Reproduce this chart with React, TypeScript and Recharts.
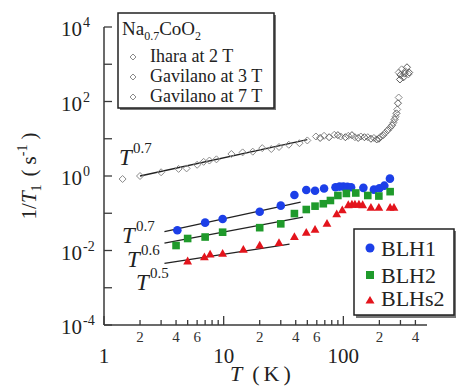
import { ScatterChart, Scatter, XAxis, YAxis } from 'recharts';

// Na0.7CoO2 reference data (1/T1 in s^-1 vs T in K)
const iharaData = [
    { t: 1.43, r: 0.83 }, { t: 2, r: 1.0 }, { t: 3, r: 1.26 }, { t: 4.2, r: 1.55 },
    { t: 4.9, r: 1.6 }, { t: 6, r: 2.0 }, { t: 6.8, r: 2.4 }, { t: 7.6, r: 2.6 },
    { t: 8.7, r: 2.8 }, { t: 11.6, r: 3.9 }, { t: 14.4, r: 4.3 }, { t: 17.5, r: 4.5 },
    { t: 21, r: 5.6 }, { t: 25, r: 5.3 }, { t: 29, r: 6.0 }, { t: 35, r: 6.9 },
    { t: 43, r: 7.6 }, { t: 50, r: 9.0 },
];
const gav3Data = [
    { t: 59, r: 11.5 }, { t: 69, r: 12 }, { t: 84, r: 12.8 }, { t: 95, r: 11.5 },
    { t: 110, r: 12 }, { t: 125, r: 11 }, { t: 140, r: 11.5 }, { t: 160, r: 11 },
    { t: 180, r: 10.5 }, { t: 204, r: 11.3 }, { t: 224, r: 14.5 }, { t: 246, r: 19.8 },
    { t: 262, r: 27 }, { t: 273, r: 39 }, { t: 282, r: 61 }, { t: 290, r: 128 },
    { t: 290, r: 600 }, { t: 307, r: 730 }, { t: 330, r: 650 }, { t: 350, r: 540 },
];
const gav7Data = [
    { t: 64, r: 10.5 }, { t: 76, r: 11 }, { t: 90, r: 12.5 }, { t: 104, r: 11 },
    { t: 118, r: 12.5 }, { t: 133, r: 10.5 }, { t: 150, r: 11 }, { t: 170, r: 10 },
    { t: 190, r: 9.6 }, { t: 198, r: 10 }, { t: 215, r: 12.5 }, { t: 235, r: 17 },
    { t: 255, r: 23 }, { t: 268, r: 33 }, { t: 278, r: 48 }, { t: 286, r: 90 },
    { t: 297, r: 390 }, { t: 318, r: 445 }, { t: 340, r: 830 }, { t: 300, r: 520 },
    { t: 325, r: 560 }, { t: 355, r: 600 },
];
const blh1Data = [
    { t: 4.1, r: 0.035 }, { t: 7, r: 0.056 }, { t: 9.8, r: 0.07 }, { t: 20, r: 0.11 },
    { t: 30, r: 0.16 }, { t: 39, r: 0.31 }, { t: 49, r: 0.42 }, { t: 58, r: 0.4 },
    { t: 69, r: 0.46 }, { t: 86, r: 0.5 }, { t: 93, r: 0.52 }, { t: 100, r: 0.52 },
    { t: 108, r: 0.51 }, { t: 116, r: 0.5 }, { t: 147, r: 0.48 }, { t: 180, r: 0.43 },
    { t: 200, r: 0.47 }, { t: 220, r: 0.55 }, { t: 245, r: 0.85 },
];
const blh2Data = [
    { t: 4, r: 0.0136 }, { t: 5, r: 0.021 }, { t: 7, r: 0.023 }, { t: 9.8, r: 0.031 },
    { t: 20, r: 0.041 }, { t: 30, r: 0.052 }, { t: 39, r: 0.098 }, { t: 49, r: 0.126 },
    { t: 58, r: 0.155 }, { t: 68, r: 0.18 }, { t: 78, r: 0.22 }, { t: 90, r: 0.3 },
    { t: 106, r: 0.34 }, { t: 127, r: 0.35 }, { t: 160, r: 0.3 }, { t: 198, r: 0.29 },
    { t: 246, r: 0.38 },
];
const blhs2Data = [
    { t: 5, r: 0.0051 }, { t: 6.9, r: 0.0066 }, { t: 7.7, r: 0.0078 }, { t: 9.8, r: 0.0082 },
    { t: 14.6, r: 0.0104 }, { t: 20, r: 0.0136 }, { t: 29, r: 0.0158 }, { t: 39, r: 0.023 },
    { t: 49, r: 0.03 }, { t: 58, r: 0.036 }, { t: 73, r: 0.052 }, { t: 88, r: 0.094 },
    { t: 98, r: 0.12 }, { t: 110, r: 0.165 }, { t: 118, r: 0.17 }, { t: 125, r: 0.17 },
    { t: 135, r: 0.17 }, { t: 145, r: 0.165 }, { t: 170, r: 0.14 }, { t: 198, r: 0.14 },
    { t: 246, r: 0.14 }, { t: 265, r: 0.14 },
];

// power-law guide lines
const fitNa = [{ t: 2, r: 1.0 }, { t: 50, r: 9.5 }];
const fitBlh1 = [{ t: 3.2, r: 0.032 }, { t: 44, r: 0.2 }];
const fitBlh2 = [{ t: 3.2, r: 0.0158 }, { t: 46, r: 0.079 }];
const fitBlhs2 = [{ t: 3.2, r: 0.0045 }, { t: 35.5, r: 0.0148 }];

const xTicks = [1, 2, 3, 4, 5, 6, 7, 8, 9, 10, 20, 30, 40, 50, 60, 70, 80, 90, 100, 200, 300, 400];
const yTicks = [1e-4, 1e-3, 1e-2, 1e-1, 1, 10, 100, 1000, 10000];

const FONT = 'Liberation Serif, Times New Roman, Times, DejaVu Serif, serif';
const serif = { fontFamily: FONT };
const AXIS = '#3a3a3a';

const lead = (v: number) => Math.round(v / Math.pow(10, Math.floor(Math.log10(v) + 1e-9)));
const isMajor = (v: number) => lead(v) === 1;

const XTickBottom = ({ x, y, payload }: any) => {
    const v = payload.value;
    const d = lead(v);
    return (
        <g>
            <line x1={x} x2={x} y1={y} y2={y - (isMajor(v) ? 9 : 5)} stroke={AXIS} strokeWidth={1.3} />
            {isMajor(v) ? (
                <text x={x} y={y + 38} textAnchor="middle" fontSize={21} style={serif} fill="#222">{v}</text>
            ) : d === 2 || d === 4 || d === 6 ? (
                <text x={x} y={y + 17} textAnchor="middle" fontSize={15} style={serif} fill="#333">{d}</text>
            ) : null}
        </g>
    );
};

const XTickTop = ({ x, y, payload }: any) => (
    <line x1={x} x2={x} y1={y} y2={y + (isMajor(payload.value) ? 9 : 5)} stroke={AXIS} strokeWidth={1.3} />
);

const YTickLeft = ({ x, y, payload }: any) => {
    const e = Math.round(Math.log10(payload.value));
    return (
        <g>
            <line x1={x} x2={x + 8} y1={y} y2={y} stroke={AXIS} strokeWidth={1.3} />
            {e % 2 === 0 ? (
                <g fill="#222">
                    <text x={x - 22} y={y + 9} textAnchor="end" fontSize={21} style={serif}>10</text>
                    <text x={x - 21} y={y} textAnchor="start" fontSize={14} style={serif}>{e}</text>
                </g>
            ) : null}
        </g>
    );
};

const YTickRight = ({ x, y }: any) => (
    <line x1={x} x2={x - 8} y1={y} y2={y} stroke={AXIS} strokeWidth={1.3} />
);

const Diamond = ({ cx, cy, stroke }: any) => (
    <polygon
        points={`${cx},${cy - 3.5} ${cx + 3.5},${cy} ${cx},${cy + 3.5} ${cx - 3.5},${cy}`}
        fill="none"
        stroke={stroke}
        strokeWidth={1}
    />
);
const diamondLight = (p: any) => <Diamond {...p} stroke="#8a8a8a" />;
const diamondDark = (p: any) => <Diamond {...p} stroke="#5a5a5a" />;
const Dot = ({ cx, cy }: any) => <circle cx={cx} cy={cy} r={4.3} fill="#1c3fe8" />;
const Sq = ({ cx, cy }: any) => <rect x={cx - 3.8} y={cy - 3.8} width={7.6} height={7.6} fill="#1f9a2b" />;
const Tri = ({ cx, cy }: any) => (
    <polygon points={`${cx},${cy - 4.8} ${cx + 4.4},${cy + 3} ${cx - 4.4},${cy + 3}`} fill="#e3141c" />
);
const NoShape = () => <g />;

const fitLine = { stroke: '#222', strokeWidth: 1.3 };

function PowerLabel({ x, y, exp }: { x: number; y: number; exp: string }) {
    return (
        <g fill="#222">
            <text x={x} y={y} fontSize={23} fontStyle="italic" style={serif}>T</text>
            <text x={x + 14} y={y - 12} fontSize={15} style={serif}>{exp}</text>
        </g>
    );
}

export default function App() {
    return (
        <div style={{ position: 'absolute', left: 0, top: 0, width: 456, height: 387, background: '#fff', fontFamily: FONT }}>
            <ScatterChart width={456} height={387} margin={{ top: 27, right: 29, bottom: 0, left: 0 }}>
                <XAxis
                    xAxisId="bottom"
                    dataKey="t"
                    type="number"
                    scale="log"
                    domain={[1, 500]}
                    allowDataOverflow
                    ticks={xTicks}
                    interval={0}
                    height={62}
                    tickSize={0}
                    tickMargin={0}
                    tickLine={false}
                    axisLine={{ stroke: AXIS, strokeWidth: 1.5 }}
                    tick={<XTickBottom />}
                />
                <XAxis
                    xAxisId="top"
                    orientation="top"
                    dataKey="t"
                    type="number"
                    scale="log"
                    domain={[1, 500]}
                    allowDataOverflow
                    ticks={xTicks}
                    interval={0}
                    height={0}
                    tickSize={0}
                    tickMargin={0}
                    tickLine={false}
                    axisLine={{ stroke: AXIS, strokeWidth: 1.5 }}
                    tick={<XTickTop />}
                />
                <YAxis
                    yAxisId="left"
                    dataKey="r"
                    type="number"
                    scale="log"
                    domain={[1e-4, 1e4]}
                    allowDataOverflow
                    ticks={yTicks}
                    interval={0}
                    width={104}
                    tickSize={0}
                    tickMargin={0}
                    tickLine={false}
                    axisLine={{ stroke: AXIS, strokeWidth: 1.5 }}
                    tick={<YTickLeft />}
                />
                <YAxis
                    yAxisId="right"
                    orientation="right"
                    dataKey="r"
                    type="number"
                    scale="log"
                    domain={[1e-4, 1e4]}
                    allowDataOverflow
                    ticks={yTicks}
                    interval={0}
                    width={0}
                    tickSize={0}
                    tickMargin={0}
                    tickLine={false}
                    axisLine={{ stroke: AXIS, strokeWidth: 1.5 }}
                    tick={<YTickRight />}
                />

                <Scatter xAxisId="bottom" yAxisId="left" data={fitNa} line={fitLine} shape={NoShape} isAnimationActive={false} />
                <Scatter xAxisId="bottom" yAxisId="left" data={fitBlh1} line={fitLine} shape={NoShape} isAnimationActive={false} />
                <Scatter xAxisId="bottom" yAxisId="left" data={fitBlh2} line={fitLine} shape={NoShape} isAnimationActive={false} />
                <Scatter xAxisId="bottom" yAxisId="left" data={fitBlhs2} line={fitLine} shape={NoShape} isAnimationActive={false} />

                <Scatter xAxisId="bottom" yAxisId="left" name="Ihara at 2 T" data={iharaData} shape={diamondLight} isAnimationActive={false} />
                <Scatter xAxisId="bottom" yAxisId="left" name="Gavilano at 3 T" data={gav3Data} shape={diamondLight} isAnimationActive={false} />
                <Scatter xAxisId="bottom" yAxisId="left" name="Gavilano at 7 T" data={gav7Data} shape={diamondDark} isAnimationActive={false} />

                <Scatter xAxisId="bottom" yAxisId="left" name="BLH1" data={blh1Data} shape={Dot} isAnimationActive={false} />
                <Scatter xAxisId="bottom" yAxisId="left" name="BLH2" data={blh2Data} shape={Sq} isAnimationActive={false} />
                <Scatter xAxisId="bottom" yAxisId="left" name="BLHs2" data={blhs2Data} shape={Tri} isAnimationActive={false} />
            </ScatterChart>

            <svg width={456} height={387} style={{ position: 'absolute', left: 0, top: 0, pointerEvents: 'none' }}>
                {/* power-law labels */}
                <PowerLabel x={119} y={165} exp="0.7" />
                <PowerLabel x={122} y={243} exp="0.7" />
                <PowerLabel x={127} y={267} exp="0.6" />
                <PowerLabel x={136} y={290} exp="0.5" />

                {/* axis titles */}
                <text x={230} y={381} fontSize={22} fill="#222" style={serif}>
                    <tspan fontStyle="italic">T</tspan>
                    <tspan dx={10}>(</tspan>
                    <tspan dx={4}>K</tspan>
                    <tspan dx={4}>)</tspan>
                </text>
                <text transform="translate(36,176) rotate(-90)" textAnchor="middle" fontSize={21} fill="#222" style={serif}>
                    <tspan>1/</tspan>
                    <tspan fontStyle="italic">T</tspan>
                    <tspan fontSize={14} dy={5}>1</tspan>
                    <tspan dx={8} dy={-5}>(</tspan>
                    <tspan dx={5}>s</tspan>
                    <tspan fontSize={14} dy={-9}>-1</tspan>
                    <tspan dx={5} dy={9}>)</tspan>
                </text>

                {/* legend: Na0.7CoO2 */}
                <rect x={120} y={15} width={156} height={95} fill="#777" />
                <rect x={118} y={13} width={156} height={95} fill="#fff" stroke="#222" strokeWidth={1.5} />
                <text x={122} y={35} fontSize={19} fill="#222" style={serif}>
                    Na<tspan fontSize={12} dy={5}>0.7</tspan>
                    <tspan dy={-5}>CoO</tspan>
                    <tspan fontSize={12} dy={5}>2</tspan>
                </text>
                {[
                    { label: 'Ihara at 2 T', y: 57 },
                    { label: 'Gavilano at 3 T', y: 77 },
                    { label: 'Gavilano at 7 T', y: 97 },
                ].map((e) => (
                    <g key={e.label}>
                        <polygon
                            points={`133,${e.y - 3} 136,${e.y} 133,${e.y + 3} 130,${e.y}`}
                            fill="none"
                            stroke="#8a8a8a"
                        />
                        <text x={150} y={e.y + 5} fontSize={18} fill="#222" style={serif}>{e.label}</text>
                    </g>
                ))}

                {/* legend: samples */}
                <rect x={356} y={231} width={100} height={87} fill="#777" />
                <rect x={354} y={229} width={100} height={86} fill="#fff" stroke="#222" strokeWidth={1.5} />
                <circle cx={370} cy={248} r={4.5} fill="#1c3fe8" />
                <rect x={366} y={271} width={8} height={8} fill="#1f9a2b" />
                <polygon points="370,296 374.5,303.5 365.5,303.5" fill="#e3141c" />
                <g fontSize={22} fill="#222">
                    <text x={381} y={256} style={serif}>BLH1</text>
                    <text x={381} y={283} style={serif}>BLH2</text>
                    <text x={381} y={306} style={serif}>BLHs2</text>
                </g>
            </svg>
        </div>
    );
}
